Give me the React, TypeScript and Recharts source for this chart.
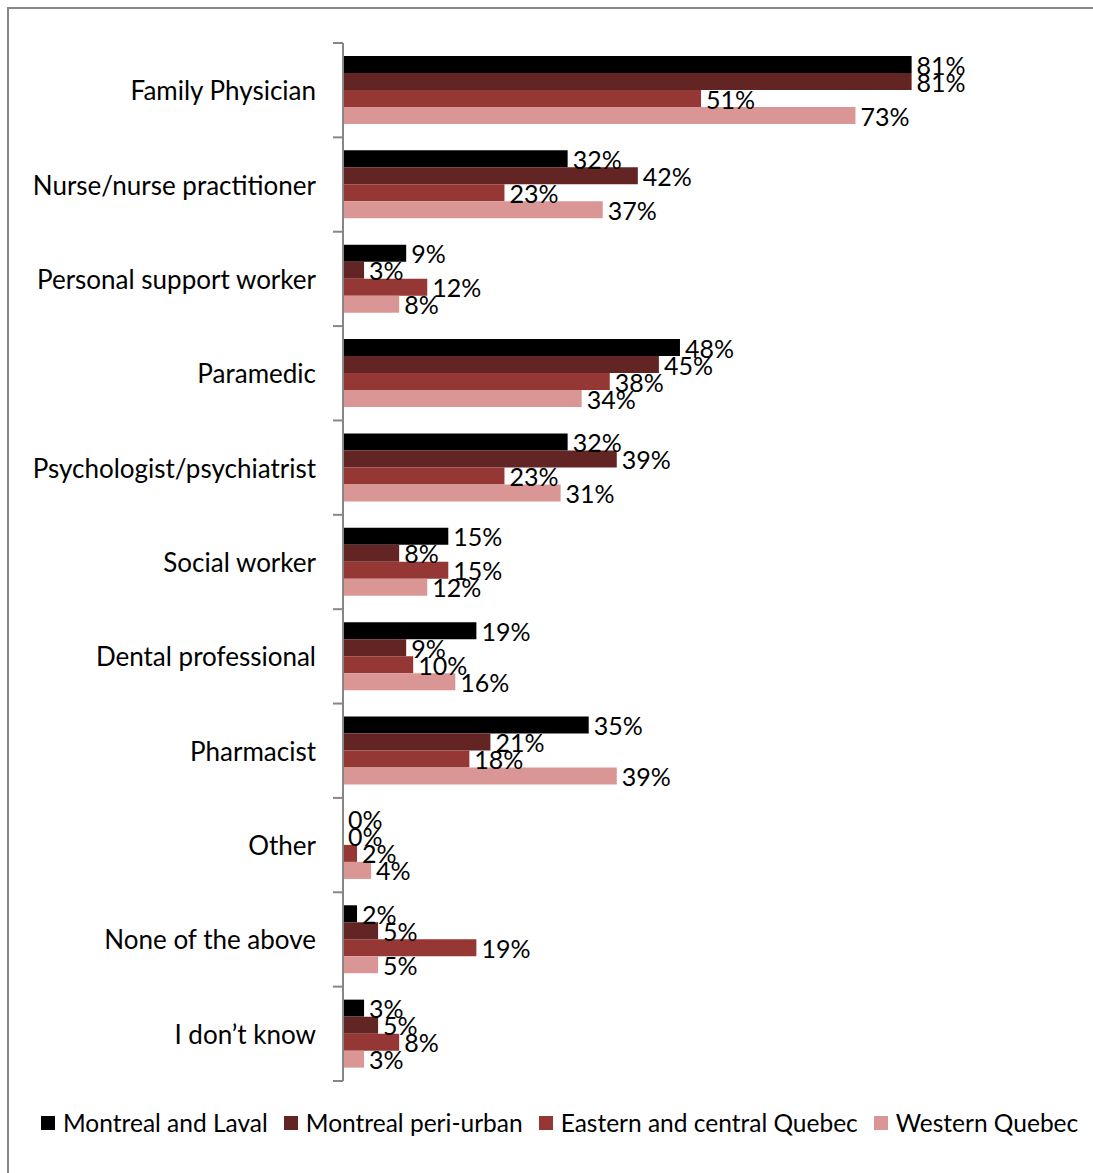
import { Bar, BarChart, XAxis, YAxis, LabelList, Legend } from 'recharts';

const categories = [
  'Family Physician',
  'Nurse/nurse practitioner',
  'Personal support worker',
  'Paramedic',
  'Psychologist/psychiatrist',
  'Social worker',
  'Dental professional',
  'Pharmacist',
  'Other',
  'None of the above',
  'I don\u2019t know',
];

const montrealLaval = [81, 32, 9, 48, 32, 15, 19, 35, 0, 2, 3];
const montrealPeriUrban = [81, 42, 3, 45, 39, 8, 9, 21, 0, 5, 5];
const easternCentral = [51, 23, 12, 38, 23, 15, 10, 18, 2, 19, 8];
const westernQuebec = [73, 37, 8, 34, 31, 12, 16, 39, 4, 5, 3];

const series = [
  { key: 'ml', name: 'Montreal and Laval', values: montrealLaval, color: '#000000' },
  { key: 'mp', name: 'Montreal peri-urban', values: montrealPeriUrban, color: '#632523' },
  { key: 'ec', name: 'Eastern and central Quebec', values: easternCentral, color: '#953735' },
  { key: 'wq', name: 'Western Quebec', values: westernQuebec, color: '#D99694' },
];

const data = categories.map((name, i) => {
  const row: Record<string, string | number> = { name };
  series.forEach((s) => {
    row[s.key] = s.values[i];
  });
  return row;
});

const FONT = 'Lato, "Open Sans", sans-serif';
const AXIS_GRAY = '#868686';
const TICK_SIZE = 10;
const TICK_MARGIN = 17;

const CategoryTick = (props: any) => {
  const { x, y, payload, index, visibleTicksCount } = props;
  const half = payload?.offset ?? 0;
  const axisX = x + TICK_SIZE + TICK_MARGIN;
  const isLast = index === visibleTicksCount - 1;
  return (
    <g>
      <line x1={axisX - TICK_SIZE} x2={axisX} y1={y - half} y2={y - half} stroke={AXIS_GRAY} strokeWidth={2} />
      {isLast && (
        <line x1={axisX - TICK_SIZE} x2={axisX} y1={y + half} y2={y + half} stroke={AXIS_GRAY} strokeWidth={2} />
      )}
      <text x={x} y={y} textAnchor="end" dominantBaseline="central" fill="#000" style={{ fontSize: 26, fontFamily: FONT }}>
        {payload.value}
      </text>
    </g>
  );
};

const ValueLabel = (props: any) => {
  const { x, y, width, height, value } = props;
  return (
    <text
      x={x + width + 5}
      y={y + height / 2}
      dominantBaseline="central"
      fill="#000"
      style={{ fontSize: 25, fontFamily: FONT }}
    >
      {`${value}%`}
    </text>
  );
};

const LegendContent = () => (
  <div
    style={{
      display: 'flex',
      alignItems: 'center',
      fontFamily: FONT,
      fontSize: 24.5,
      color: '#000',
      whiteSpace: 'nowrap',
    }}
  >
    {series.map((s) => (
      <div key={s.key} style={{ display: 'flex', alignItems: 'center', marginRight: 16, flexShrink: 0 }}>
        <span style={{ width: 14, height: 14, background: s.color, display: 'inline-block', marginRight: 8 }} />
        <span>{s.name}</span>
      </div>
    ))}
  </div>
);

const App = () => (
  <div
    style={{
      position: 'fixed',
      left: 7,
      top: 7,
      width: 1086,
      height: 1166,
      overflow: 'hidden',
      borderLeft: `2px solid ${AXIS_GRAY}`,
      borderTop: `2px solid ${AXIS_GRAY}`,
      background: '#fff',
    }}
  >
    <BarChart
      width={1084}
      height={1164}
      data={data}
      layout="vertical"
      margin={{ top: 34, right: 48, bottom: 52, left: 0 }}
      barGap={0}
      barCategoryGap={13}
    >
      <XAxis type="number" domain={[0, 100]} hide />
      <YAxis
        type="category"
        dataKey="name"
        width={334}
        axisLine={{ stroke: AXIS_GRAY, strokeWidth: 2 }}
        tickLine={false}
        tickSize={TICK_SIZE}
        tickMargin={TICK_MARGIN}
        interval={0}
        tick={<CategoryTick />}
      />
      <Legend
        verticalAlign="bottom"
        height={40}
        content={<LegendContent />}
        wrapperStyle={{ top: 1099, left: 32, bottom: 'auto', width: 1052 }}
      />
      {series.map((s) => (
        <Bar key={s.key} dataKey={s.key} name={s.name} fill={s.color} minPointSize={0.01} isAnimationActive={false}>
          <LabelList dataKey={s.key} content={<ValueLabel />} />
        </Bar>
      ))}
    </BarChart>
  </div>
);

export default App;
